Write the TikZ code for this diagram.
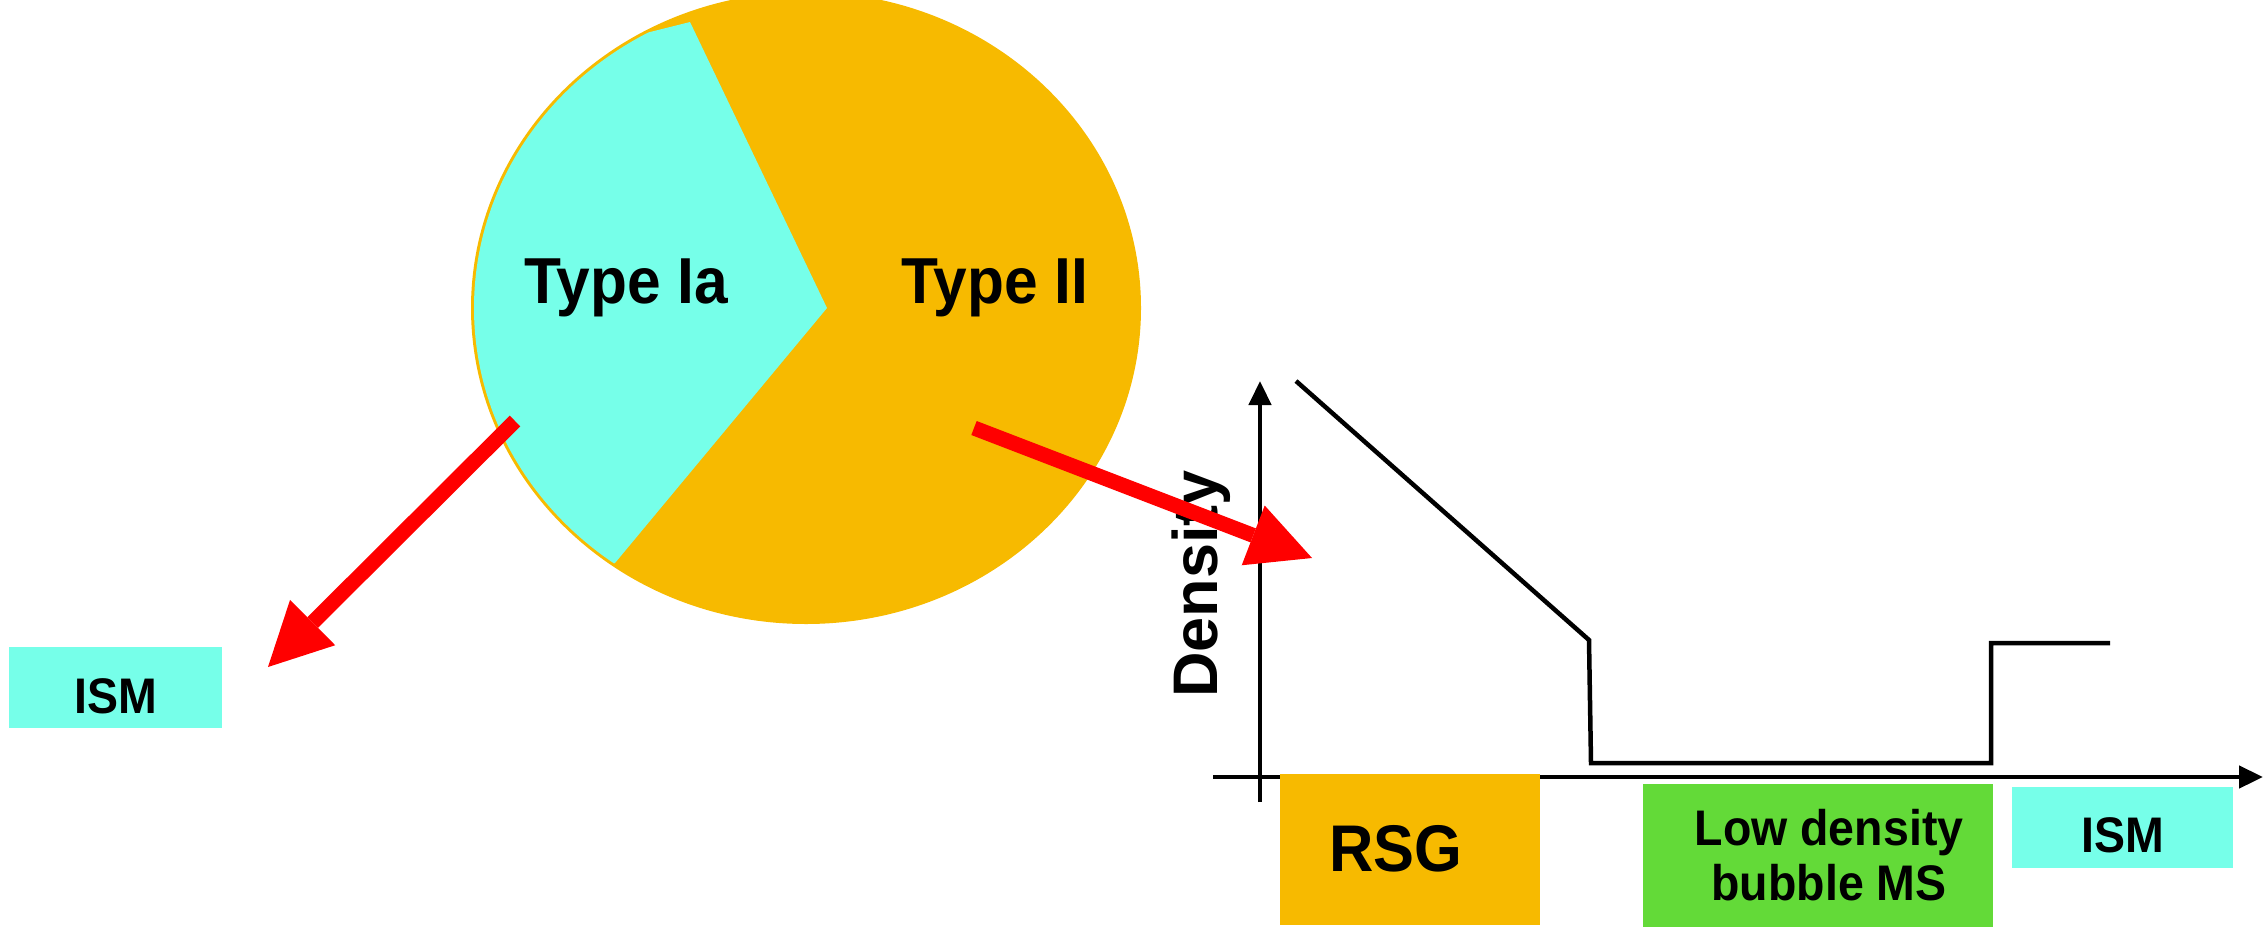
\documentclass[tikz,border=0pt]{standalone}
\usepackage{fontspec}
\setmainfont{Liberation Sans}
\usepackage{graphicx}
\usetikzlibrary{arrows.meta}
\definecolor{pieorange}{RGB}{247,186,0}
\definecolor{piecyan}{RGB}{118,255,233}
\definecolor{boxgreen}{RGB}{99,218,56}
\definecolor{arrowred}{RGB}{255,0,0}
\newcommand{\cx}[1]{\scalebox{0.93}[1]{#1}}
\begin{document}
\begin{tikzpicture}[x=1pt,y=-1pt,
  lbl/.style={font=\fontsize{65}{70}\selectfont\bfseries, inner sep=0pt, anchor=base},
  bigfont/.style={font=\fontsize{66}{70}\selectfont\bfseries},
  smallfont/.style={font=\fontsize{50}{55}\selectfont\bfseries},
  regionbox/.style={inner sep=0pt},
  axisline/.style={line width=4.5pt, -{Triangle[length=24pt,width=22pt]}},
  profile/.style={line width=4.5pt, line join=miter},
  redarrow/.style={arrowred, line width=15pt, -{Triangle[length=63pt,width=64pt,line width=0pt]}},
]
\useasboundingbox (0,0) rectangle (2265,927);

% pie
\fill[pieorange] (806,308) ellipse [x radius=335, y radius=316];
\begin{scope}
  \clip (806,308) ellipse [x radius=332, y radius=313];
  \fill[piecyan] (827,308) -- (690,22) -- (634,36) -- (420,120) -- (420,640) -- (615,563) -- cycle;
\end{scope}
\node[lbl] (typeIa) at (626,303) {\cx{Type Ia}};
\node[lbl] (typeII) at (995,303) {\cx{Type II}};

% left ISM box
\node[regionbox, fill=piecyan, minimum width=213pt, minimum height=81pt,
      text height=51pt, text depth=0pt, smallfont] (ismL) at (115.5,687.5) {\cx{ISM}};

% axes
\coordinate (xstart) at (1213,777);
\coordinate (xend) at (2263,777);
\coordinate (ystart) at (1260,802);
\coordinate (yend) at (1260,381);
\draw[axisline] (xstart) -- (xend);
\draw[axisline] (ystart) -- (yend);
\node[font=\fontsize{63}{70}\selectfont\bfseries, rotate=90, anchor=base west, inner sep=0pt]
  (density) at (1217,698) {Density};

% density profile
\coordinate (p1) at (1296,381);
\coordinate (p2) at (1589,640);
\coordinate (p3) at (1591,763);
\coordinate (p4) at (1991,763);
\coordinate (p5) at (1991,643);
\coordinate (p6) at (2110,643);
\draw[profile] (p1) -- (p2) -- (p3) -- (p4) -- (p5) -- (p6);

% region boxes
\node[regionbox, fill=pieorange, minimum width=260pt, minimum height=151pt,
      text height=43pt, text depth=0pt, bigfont] (rsg) at (1410,849.5) {\hspace*{-28pt}\cx{RSG}};
\node[regionbox, fill=boxgreen, minimum width=350pt, minimum height=143pt,
      align=center, smallfont] (bubble) at (1818,855.5)
  {\hspace*{22pt}\cx{Low density}\\\hspace*{22pt}\cx{bubble MS}};
\node[regionbox, fill=piecyan, minimum width=221pt, minimum height=81pt,
      text height=49pt, text depth=0pt, smallfont] (ismR) at (2122.5,827.5) {\cx{ISM}};

% red arrows
\coordinate (a1s) at (515,421);
\coordinate (a1e) at (268,667);
\coordinate (a2s) at (974,428);
\coordinate (a2e) at (1312,558);
\draw[redarrow] (a1s) -- (a1e);
\draw[redarrow] (a2s) -- (a2e);
\end{tikzpicture}
\end{document}
